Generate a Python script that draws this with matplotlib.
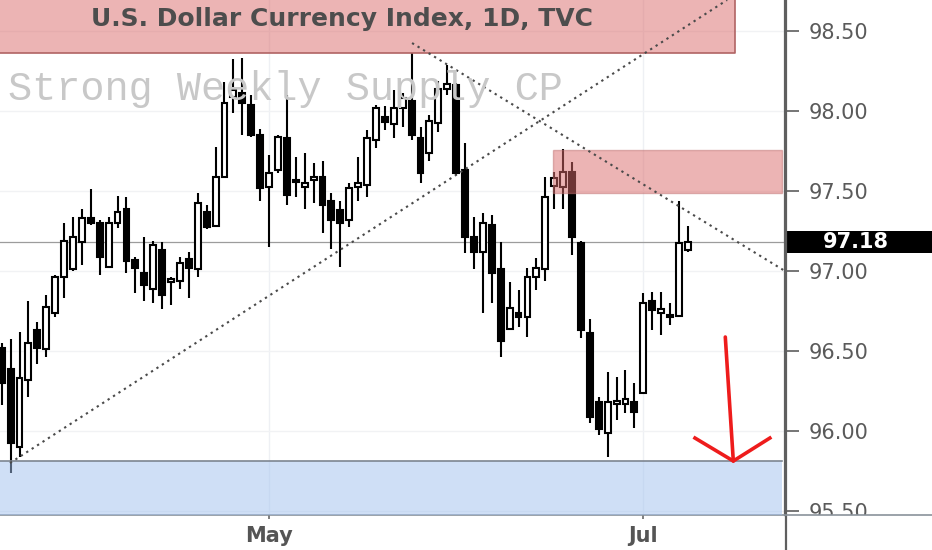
import matplotlib
matplotlib.use('Agg')
import matplotlib.pyplot as plt
from matplotlib.patches import Rectangle
from matplotlib.lines import Line2D
from matplotlib.transforms import blended_transform_factory, Bbox, TransformedBbox

# Velas diarias DXY (apertura, maximo, minimo, cierre)
apertura = [96.52, 96.39, 95.90, 96.32, 96.63, 96.51, 96.74, 96.96, 97.01, 97.18,
            97.33, 97.30, 97.025, 97.30, 97.39, 97.07, 96.99, 96.89, 97.13, 96.93,
            96.94, 97.075, 97.01, 97.37, 97.28, 97.59, 98.09, 98.11, 98.04, 97.85,
            97.525, 97.63, 97.83, 97.56, 97.525, 97.57, 97.59, 97.44, 97.38, 97.32,
            97.525, 97.54, 97.82, 97.96, 97.92, 98.02, 98.06, 97.83, 97.74, 97.925,
            98.14, 98.16, 97.63, 97.21, 97.12, 97.29, 97.01, 96.64, 96.74, 96.71,
            96.96, 97.01, 97.53, 97.525, 97.62, 97.175, 96.61, 96.18, 95.99, 96.17,
            96.17, 96.18, 96.24, 96.81, 96.74, 96.71, 96.72, 97.13]
maximo = [96.55, 96.575, 96.62, 96.81, 96.68, 96.85, 96.975, 97.30, 97.34, 97.39,
          97.51, 97.32, 97.34, 97.47, 97.46, 97.09, 97.21, 97.19, 97.18, 96.96,
          97.09, 97.12, 97.49, 97.41, 97.775, 98.18, 98.325, 98.33, 98.10, 97.89,
          97.725, 97.85, 98.10, 97.71, 97.74, 97.675, 97.69, 97.49, 97.44, 97.55,
          97.71, 97.88, 98.04, 98.03, 98.13, 98.11, 98.36, 97.90, 97.975, 98.19,
          98.29, 98.175, 97.80, 97.34, 97.36, 97.35, 97.18, 96.93, 96.88, 97.02,
          97.08, 97.59, 97.62, 97.76, 97.68, 97.19, 96.70, 96.21, 96.37, 96.34,
          96.38, 96.30, 96.86, 96.87, 96.87, 96.80, 97.44, 97.28]
minimo = [96.16, 95.74, 95.84, 96.21, 96.42, 96.46, 96.71, 96.83, 97.00, 97.04,
          97.29, 96.975, 97.02, 97.27, 96.99, 96.86, 96.81, 96.80, 96.76, 96.79,
          96.89, 96.83, 96.96, 97.26, 97.275, 97.58, 97.99, 97.85, 97.84, 97.44,
          97.15, 97.61, 97.41, 97.46, 97.39, 97.425, 97.24, 97.14, 97.025, 97.275,
          97.44, 97.46, 97.77, 97.88, 97.83, 97.90, 97.82, 97.55, 97.69, 97.87,
          98.10, 97.60, 97.11, 97.01, 96.74, 96.80, 96.46, 96.63, 96.65, 96.59,
          96.88, 96.94, 97.39, 97.39, 97.10, 96.58, 96.05, 95.975, 95.84, 96.07,
          96.11, 96.02, 96.24, 96.63, 96.60, 96.66, 96.72, 97.12]
cierre = [96.30, 95.925, 96.33, 96.55, 96.52, 96.775, 96.96, 97.19, 97.21, 97.33,
          97.30, 97.09, 97.30, 97.37, 97.06, 97.02, 96.91, 97.16, 96.85, 96.95,
          97.05, 97.02, 97.425, 97.275, 97.59, 98.05, 98.13, 98.05, 97.85, 97.52,
          97.61, 97.84, 97.475, 97.555, 97.55, 97.59, 97.41, 97.32, 97.30, 97.52,
          97.55, 97.83, 98.02, 97.93, 98.02, 98.08, 97.85, 97.61, 97.94, 98.14,
          98.17, 97.61, 97.21, 97.12, 97.30, 96.99, 96.56, 96.77, 96.71, 96.96,
          97.02, 97.46, 97.58, 97.62, 97.21, 96.63, 96.09, 96.01, 96.18, 96.19,
          96.20, 96.12, 96.80, 96.755, 96.76, 96.715, 97.175, 97.18]

etiquetas_fecha = ['May', 'Jul']
posiciones_fecha = [30, 72]
niveles = [95.5, 96.0, 96.5, 97.0, 97.5, 98.0, 98.5]
precio_actual = 97.18

# Zonas (precio bajo, precio alto) y lineas de tendencia
zona_arriba = (98.3625, 99.0)
zona_oferta = (97.4875, 97.756)
zona_demanda = (95.2, 95.8125)
linea_sube_x = [0.93, 81.4]
linea_sube_y = [95.80, 98.694]
linea_baja_x = [46.05, 87.9]
linea_baja_y = [98.425, 97.0]
flecha_x = [81.2, 82.1]
flecha_y = [96.5875, 95.8125]
punta_x = [77.8, 82.1, 86.2]
punta_y = [95.956, 95.8125, 95.956]

W, H = 932, 550
fig = plt.figure(figsize=(W / 100, H / 100), dpi=100)
ax = fig.add_axes([0, 35 / H, 785 / W, 515 / H])
ax.set_xlim(-0.19, 87.9)
ax.set_ylim(95.475, 98.694)

# rejilla tenue
for p in posiciones_fecha:
    ax.axvline(p, color='#eef0f4', lw=1, zorder=0)
for n in niveles:
    ax.axhline(n, color='#f1f2f4', lw=1, zorder=0)

ax.axhline(precio_actual, color='#9c9c9c', lw=0.9, zorder=1)

# velas
for i in range(len(apertura)):
    o, h, l, c = apertura[i], maximo[i], minimo[i], cierre[i]
    ax.plot([i, i], [l, h], color='black', lw=1.5, zorder=2, solid_capstyle='butt')
    abajo = min(o, c)
    alto = max(abs(c - o), 0.012)
    relleno = 'white' if c >= o else 'black'
    ax.add_patch(Rectangle((i - 0.33, abajo), 0.66, alto, facecolor=relleno,
                           edgecolor='black', lw=1.5, zorder=3))

# zonas
x0, x1 = ax.get_xlim()
ax.add_patch(Rectangle((x0 - 1, zona_arriba[0]), 82.3 - x0 + 1, zona_arriba[1] - zona_arriba[0],
                       facecolor='#db6a6a', alpha=0.5, edgecolor='none', zorder=4))
ax.plot([x0, 82.3, 82.3], [zona_arriba[0], zona_arriba[0], 98.7], color='#b06464', lw=1.2, zorder=4)
ax.add_patch(Rectangle((61.9, zona_oferta[0]), 87.6 - 61.9, zona_oferta[1] - zona_oferta[0],
                       facecolor='#db6a6a', alpha=0.5, edgecolor='#c07070', lw=1, zorder=4))
ax.add_patch(Rectangle((x0 - 1, zona_demanda[0]), 87.6 - x0 + 1, zona_demanda[1] - zona_demanda[0],
                       facecolor='#a1c1ef', alpha=0.5, edgecolor='none', zorder=4))
ax.plot([x0, 87.6], [zona_demanda[1], zona_demanda[1]], color='#7d8590', lw=1.2, zorder=4)

# lineas punteadas
ax.plot(linea_sube_x, linea_sube_y, color='#4a4a4a', lw=1.5, ls=(0, (1.1, 2.0)), zorder=5)
ax.plot(linea_baja_x, linea_baja_y, color='#4a4a4a', lw=1.5, ls=(0, (1.1, 2.0)), zorder=5)

# flecha roja
ax.plot(flecha_x, flecha_y, color='#ee1c1c', lw=2.6, zorder=6, solid_capstyle='round')
ax.plot(punta_x, punta_y, color='#ee1c1c', lw=2.6, zorder=6, solid_joinstyle='miter')

# textos
fig.text(342 / W, 1 - 19 / H, 'U.S. Dollar Currency Index, 1D, TVC', ha='center', va='center',
         fontsize=18, fontweight='bold', color='#4d4d4d', family='DejaVu Sans', zorder=10)
ax.text(8 / 785, 1 - 89 / 515, 'Strong Weekly Supply CP', transform=ax.transAxes,
        ha='left', va='center', fontsize=29, color='#c8c8c8', family='Liberation Mono', zorder=7)

# ejes
for s in ['top', 'left']:
    ax.spines[s].set_visible(False)
ax.spines['right'].set_color('#5f5f5f')
ax.spines['right'].set_linewidth(1.6)
ax.spines['bottom'].set_color('#8a929b')
ax.spines['bottom'].set_linewidth(1.2)
ax.yaxis.tick_right()
ax.set_yticks(niveles)
ax.set_yticklabels(['%.2f' % n for n in niveles])
ax.tick_params(axis='y', length=10, width=1.3, color='#6a6a6a', labelsize=15,
               labelcolor='#5a5a5a', pad=7)
ax.set_xticks(posiciones_fecha)
ax.set_xticklabels(etiquetas_fecha, fontweight='bold')
ax.tick_params(axis='x', length=3, width=1.2, color='#6a6a6a', labelsize=15,
               labelcolor='#555555', pad=5)

caja = TransformedBbox(Bbox([[0, 35 / H], [1, 1]]), fig.transFigure)
for et in ax.get_yticklabels():
    et.set_clip_on(True)
    et.set_clip_box(caja)

fig.add_artist(Line2D([786 / W, 786 / W], [0, 1], color='#5f5f5f', lw=1.6))
fig.add_artist(Line2D([785 / W, 1], [35 / H, 35 / H], color='#8a929b', lw=1.2))

# etiqueta del precio actual
mezcla = blended_transform_factory(fig.transFigure, ax.transData)
ax.add_patch(Rectangle((785 / W, precio_actual - 0.069), 1 - 785 / W, 0.1375, transform=mezcla,
                       facecolor='black', edgecolor='none', clip_on=False, zorder=20))
ax.text(856 / W, precio_actual, '%.2f' % precio_actual, transform=mezcla, ha='center', va='center',
        fontsize=15, fontweight='bold', color='white', clip_on=False, zorder=21)

fig.savefig('out.png', dpi=100)
